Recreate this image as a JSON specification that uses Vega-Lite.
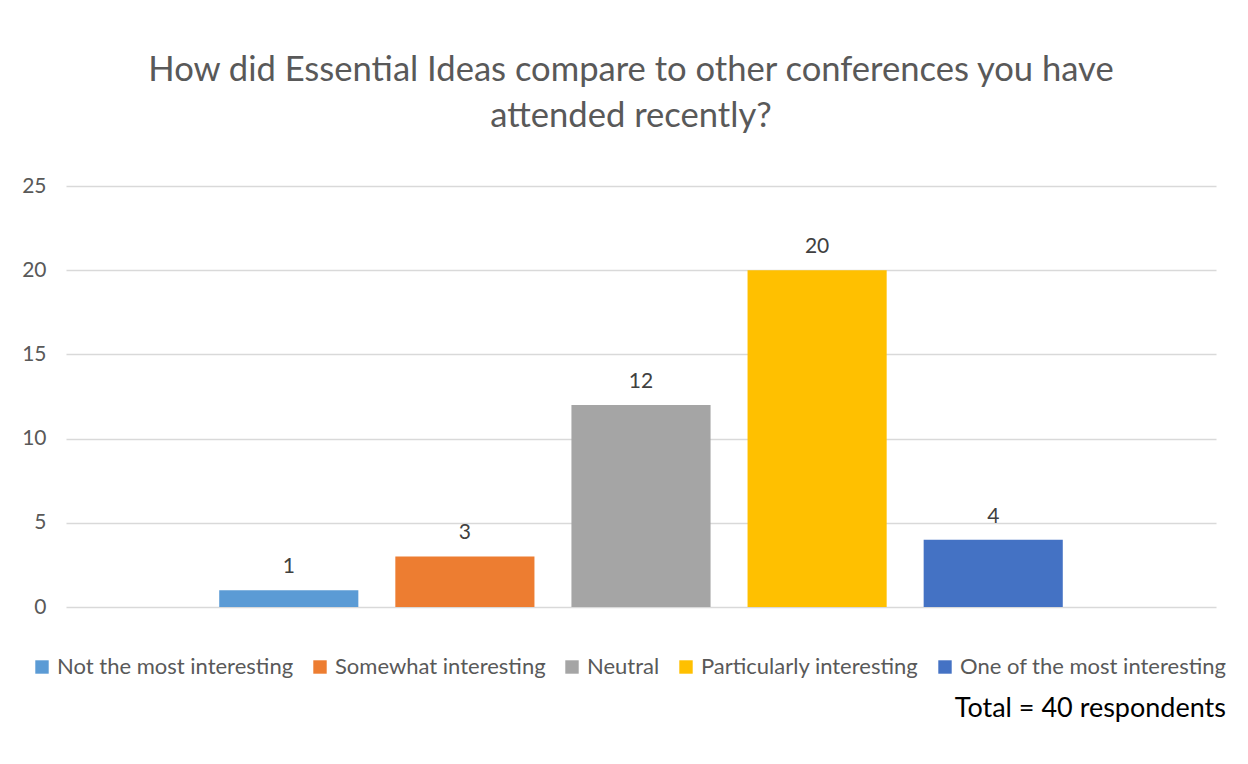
{
  "$schema": "https://vega.github.io/schema/vega-lite/v6.json",
  "width": 1150,
  "height": 421,
  "padding": {"left": 21, "top": 53, "right": 20, "bottom": 10},
  "background": "white",
  "title": {
    "text": ["How did Essential Ideas compare to other conferences you have", "attended recently?"],
    "font": "Lato",
    "fontSize": 34.6,
    "fontWeight": "normal",
    "color": "#595959",
    "lineHeight": 46,
    "anchor": "middle",
    "dx": -10,
    "offset": 40
  },
  "data": {
    "values": [
      {"response": "Not the most interesting", "count": 1},
      {"response": "Somewhat interesting", "count": 3},
      {"response": "Neutral", "count": 12},
      {"response": "Particularly interesting", "count": 20},
      {"response": "One of the most interesting", "count": 4}
    ]
  },
  "encoding": {
    "x": {
      "field": "response",
      "type": "nominal",
      "sort": null,
      "axis": null,
      "scale": {"paddingInner": 0.21, "paddingOuter": 0.87}
    },
    "y": {
      "field": "count",
      "type": "quantitative",
      "scale": {"domain": [0, 25]},
      "axis": {
        "title": null,
        "values": [0, 5, 10, 15, 20, 25],
        "domain": false,
        "ticks": false,
        "grid": true,
        "gridColor": "#D9D9D9",
        "gridWidth": 1.5,
        "labelFont": "Lato",
        "labelFontSize": 21,
        "labelColor": "#595959",
        "labelPadding": 20
      }
    }
  },
  "layer": [
    {
      "mark": {"type": "bar"},
      "encoding": {
        "color": {
          "field": "response",
          "type": "nominal",
          "sort": null,
          "scale": {
            "domain": ["Not the most interesting", "Somewhat interesting", "Neutral", "Particularly interesting", "One of the most interesting"],
            "range": ["#5B9BD5", "#ED7D31", "#A5A5A5", "#FFC000", "#4472C4"]
          },
          "legend": {
            "title": "Total = 40 respondents",
            "orient": "none",
            "legendX": -35,
            "legendY": 470,
            "direction": "horizontal",
            "columns": 5,
            "titleOrient": "bottom",
            "titleAnchor": "end",
            "titleFont": "Lato",
            "titleFontSize": 27,
            "titleFontWeight": "normal",
            "titleColor": "#000000",
            "titlePadding": 18,
            "titleLimit": 600,
            "labelFont": "Lato",
            "labelFontSize": 22,
            "labelColor": "#595959",
            "labelLimit": 400,
            "labelOffset": 4,
            "symbolType": "square",
            "symbolSize": 180,
            "symbolStrokeWidth": 0,
            "columnPadding": 15
          }
        }
      }
    },
    {
      "mark": {"type": "text", "baseline": "alphabetic", "dy": -17, "font": "Lato", "fontSize": 21, "color": "#404040"},
      "encoding": {
        "text": {"field": "count", "type": "quantitative"}
      }
    }
  ],
  "config": {
    "view": {"stroke": null}
  }
}
